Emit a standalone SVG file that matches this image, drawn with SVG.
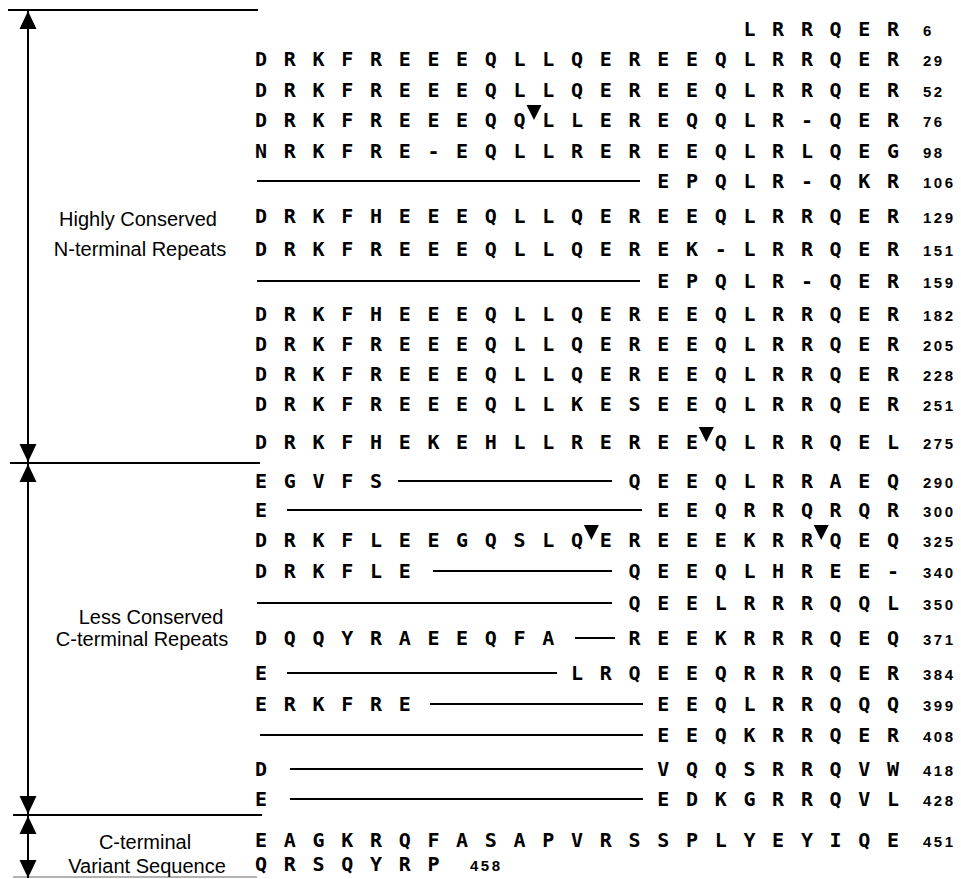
<svg xmlns="http://www.w3.org/2000/svg" width="961" height="879" viewBox="0 0 961 879">
<style>
.seq{font-family:"DejaVu Sans Mono",monospace;font-weight:bold;font-size:20px;fill:#000;text-anchor:middle}
.num{font-family:"Liberation Sans",Arial,sans-serif;font-weight:bold;font-size:15px;letter-spacing:2.5px;fill:#000}
.lab{font-family:"Liberation Sans",Arial,sans-serif;font-size:20px;fill:#000;text-anchor:middle}
.gap{stroke:#000;stroke-width:2.2;fill:none}
.sep{stroke:#000;stroke-width:2;fill:none}
.arr{stroke:#000;stroke-width:2;fill:none;marker-start:url(#ah);marker-end:url(#ah)}
.tri{fill:#000}
</style>
<defs>
<marker id="ah" markerUnits="userSpaceOnUse" markerWidth="18" markerHeight="18" viewBox="0 0 18 18" refX="18" refY="9" orient="auto-start-reverse">
<path d="M0,0.5 L18,9 L0,17.5 Z" fill="#000"/>
</marker>
</defs>
<rect width="961" height="879" fill="#fff"/>

<g id="brackets">
<line class="sep" x1="8" y1="10" x2="258" y2="10"/>
<line class="sep" x1="10" y1="463" x2="260" y2="463"/>
<line class="sep" x1="13" y1="815" x2="262" y2="815"/>
<line x1="13" y1="877" x2="257" y2="877" stroke="#999" stroke-width="1.5"/>
<line class="arr" x1="28" y1="11" x2="28" y2="462"/>
<line class="arr" x1="28" y1="464" x2="28" y2="814"/>
<line class="arr" x1="28" y1="816" x2="28" y2="878"/>
</g>

<g id="labels">
<text class="lab" x="138" y="226">Highly Conserved</text>
<text class="lab" x="140" y="256">N-terminal Repeats</text>
<text class="lab" x="151" y="624">Less Conserved</text>
<text class="lab" x="142" y="646">C-terminal Repeats</text>
<text class="lab" x="145" y="849">C-terminal</text>
<text class="lab" x="147" y="873">Variant Sequence</text>
</g>

<g id="connectors">
<line class="gap" x1="257" y1="181" x2="640" y2="181"/>
<line class="gap" x1="257" y1="281" x2="640" y2="281"/>
<line class="gap" x1="398" y1="481" x2="612" y2="481"/>
<line class="gap" x1="287" y1="510" x2="642" y2="510"/>
<line class="gap" x1="433" y1="571" x2="612" y2="571"/>
<line class="gap" x1="257" y1="603" x2="612" y2="603"/>
<line class="gap" x1="575" y1="638" x2="615" y2="638"/>
<line class="gap" x1="287" y1="673" x2="557" y2="673"/>
<line class="gap" x1="430" y1="704" x2="643" y2="704"/>
<line class="gap" x1="260" y1="735" x2="643" y2="735"/>
<line class="gap" x1="290" y1="769" x2="643" y2="769"/>
<line class="gap" x1="290" y1="799" x2="643" y2="799"/>
</g>

<g id="markers">
<polygon class="tri" points="526.5,105 541.5,105 534,120"/>
<polygon class="tri" points="698.8,427 713.8,427 706.3,442"/>
<polygon class="tri" points="583.9,525 598.9,525 591.4,540"/>
<polygon class="tri" points="813.7,525 828.7,525 821.2,540"/>
</g>

<g id="r6"><text class="seq" y="36" x="749.4 778.1 806.9 835.6 864.3 893.1">LRRQER</text><text class="num" x="923" y="36">6</text></g>
<g id="r29"><text class="seq" y="66" x="261 289.7 318.5 347.2 375.9 404.7 433.4 462.1 490.8 519.6 548.3 577 605.8 634.5 663.2 692 720.7 749.4 778.1 806.9 835.6 864.3 893.1">DRKFREEEQLLQEREEQLRRQER</text><text class="num" x="923" y="66">29</text></g>
<g id="r52"><text class="seq" y="96.5" x="261 289.7 318.5 347.2 375.9 404.7 433.4 462.1 490.8 519.6 548.3 577 605.8 634.5 663.2 692 720.7 749.4 778.1 806.9 835.6 864.3 893.1">DRKFREEEQLLQEREEQLRRQER</text><text class="num" x="923" y="96.5">52</text></g>
<g id="r76"><text class="seq" y="127" x="261 289.7 318.5 347.2 375.9 404.7 433.4 462.1 490.8 519.6 548.3 577 605.8 634.5 663.2 692 720.7 749.4 778.1 806.9 835.6 864.3 893.1">DRKFREEEQQLLEREQQLR-QER</text><text class="num" x="923" y="127">76</text></g>
<g id="r98"><text class="seq" y="158" x="261 289.7 318.5 347.2 375.9 404.7 433.4 462.1 490.8 519.6 548.3 577 605.8 634.5 663.2 692 720.7 749.4 778.1 806.9 835.6 864.3 893.1">NRKFRE-EQLLREREEQLRLQEG</text><text class="num" x="923" y="158">98</text></g>
<g id="r106"><text class="seq" y="188" x="663.2 692 720.7 749.4 778.1 806.9 835.6 864.3 893.1">EPQLR-QKR</text><text class="num" x="923" y="188">106</text></g>
<g id="r129"><text class="seq" y="223" x="261 289.7 318.5 347.2 375.9 404.7 433.4 462.1 490.8 519.6 548.3 577 605.8 634.5 663.2 692 720.7 749.4 778.1 806.9 835.6 864.3 893.1">DRKFHEEEQLLQEREEQLRRQER</text><text class="num" x="923" y="223">129</text></g>
<g id="r151"><text class="seq" y="256" x="261 289.7 318.5 347.2 375.9 404.7 433.4 462.1 490.8 519.6 548.3 577 605.8 634.5 663.2 692 720.7 749.4 778.1 806.9 835.6 864.3 893.1">DRKFREEEQLLQEREK-LRRQER</text><text class="num" x="923" y="256">151</text></g>
<g id="r159"><text class="seq" y="288" x="663.2 692 720.7 749.4 778.1 806.9 835.6 864.3 893.1">EPQLR-QER</text><text class="num" x="923" y="288">159</text></g>
<g id="r182"><text class="seq" y="321" x="261 289.7 318.5 347.2 375.9 404.7 433.4 462.1 490.8 519.6 548.3 577 605.8 634.5 663.2 692 720.7 749.4 778.1 806.9 835.6 864.3 893.1">DRKFHEEEQLLQEREEQLRRQER</text><text class="num" x="923" y="321">182</text></g>
<g id="r205"><text class="seq" y="351" x="261 289.7 318.5 347.2 375.9 404.7 433.4 462.1 490.8 519.6 548.3 577 605.8 634.5 663.2 692 720.7 749.4 778.1 806.9 835.6 864.3 893.1">DRKFREEEQLLQEREEQLRRQER</text><text class="num" x="923" y="351">205</text></g>
<g id="r228"><text class="seq" y="381" x="261 289.7 318.5 347.2 375.9 404.7 433.4 462.1 490.8 519.6 548.3 577 605.8 634.5 663.2 692 720.7 749.4 778.1 806.9 835.6 864.3 893.1">DRKFREEEQLLQEREEQLRRQER</text><text class="num" x="923" y="381">228</text></g>
<g id="r251"><text class="seq" y="411" x="261 289.7 318.5 347.2 375.9 404.7 433.4 462.1 490.8 519.6 548.3 577 605.8 634.5 663.2 692 720.7 749.4 778.1 806.9 835.6 864.3 893.1">DRKFREEEQLLKESEEQLRRQER</text><text class="num" x="923" y="411">251</text></g>
<g id="r275"><text class="seq" y="449" x="261 289.7 318.5 347.2 375.9 404.7 433.4 462.1 490.8 519.6 548.3 577 605.8 634.5 663.2 692 720.7 749.4 778.1 806.9 835.6 864.3 893.1">DRKFHEKEHLLREREEQLRRQEL</text><text class="num" x="923" y="449">275</text></g>
<g id="r290"><text class="seq" y="488" x="261 289.7 318.5 347.2 375.9 634.5 663.2 692 720.7 749.4 778.1 806.9 835.6 864.3 893.1">EGVFSQEEQLRRAEQ</text><text class="num" x="923" y="488">290</text></g>
<g id="r300"><text class="seq" y="517" x="261 663.2 692 720.7 749.4 778.1 806.9 835.6 864.3 893.1">EEEQRRQRQR</text><text class="num" x="923" y="517">300</text></g>
<g id="r325"><text class="seq" y="547" x="261 289.7 318.5 347.2 375.9 404.7 433.4 462.1 490.8 519.6 548.3 577 605.8 634.5 663.2 692 720.7 749.4 778.1 806.9 835.6 864.3 893.1">DRKFLEEGQSLQEREEEKRRQEQ</text><text class="num" x="923" y="547">325</text></g>
<g id="r340"><text class="seq" y="578" x="261 289.7 318.5 347.2 375.9 404.7 634.5 663.2 692 720.7 749.4 778.1 806.9 835.6 864.3 893.1">DRKFLEQEEQLHREE-</text><text class="num" x="923" y="578">340</text></g>
<g id="r350"><text class="seq" y="610" x="634.5 663.2 692 720.7 749.4 778.1 806.9 835.6 864.3 893.1">QEELRRRQQL</text><text class="num" x="923" y="610">350</text></g>
<g id="r371"><text class="seq" y="645" x="261 289.7 318.5 347.2 375.9 404.7 433.4 462.1 490.8 519.6 548.3 634.5 663.2 692 720.7 749.4 778.1 806.9 835.6 864.3 893.1">DQQYRAEEQFAREEKRRRQEQ</text><text class="num" x="923" y="645">371</text></g>
<g id="r384"><text class="seq" y="680" x="261 577 605.8 634.5 663.2 692 720.7 749.4 778.1 806.9 835.6 864.3 893.1">ELRQEEQRRRQER</text><text class="num" x="923" y="680">384</text></g>
<g id="r399"><text class="seq" y="711" x="261 289.7 318.5 347.2 375.9 404.7 663.2 692 720.7 749.4 778.1 806.9 835.6 864.3 893.1">ERKFREEEQLRRQQQ</text><text class="num" x="923" y="711">399</text></g>
<g id="r408"><text class="seq" y="742" x="663.2 692 720.7 749.4 778.1 806.9 835.6 864.3 893.1">EEQKRRQER</text><text class="num" x="923" y="742">408</text></g>
<g id="r418"><text class="seq" y="776" x="261 663.2 692 720.7 749.4 778.1 806.9 835.6 864.3 893.1">DVQQSRRQVW</text><text class="num" x="923" y="776">418</text></g>
<g id="r428"><text class="seq" y="806" x="261 663.2 692 720.7 749.4 778.1 806.9 835.6 864.3 893.1">EEDKGRRQVL</text><text class="num" x="923" y="806">428</text></g>
<g id="r451"><text class="seq" y="847" x="261 289.7 318.5 347.2 375.9 404.7 433.4 462.1 490.8 519.6 548.3 577 605.8 634.5 663.2 692 720.7 749.4 778.1 806.9 835.6 864.3 893.1">EAGKRQFASAPVRSSPLYEYIQE</text><text class="num" x="923" y="847">451</text></g>
<g id="r458"><text class="seq" y="871" x="261 289.7 318.5 347.2 375.9 404.7 433.4">QRSQYRP</text><text class="num" x="470" y="871">458</text></g>
</svg>
